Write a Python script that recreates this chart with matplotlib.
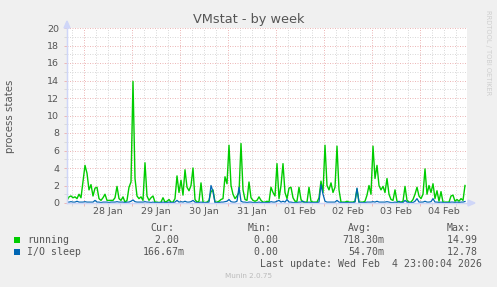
import matplotlib
matplotlib.use("Agg")
import matplotlib.pyplot as plt
import matplotlib.dates as mdates
from matplotlib.patches import Rectangle, Polygon
from datetime import datetime, timedelta

W, H = 497, 287

# --- data (hourly averages) ---
start = datetime(2026, 1, 27, 15, 30)
end = datetime(2026, 2, 4, 23, 30)

running = [
    0.3, 0.7, 0.8, 0.6, 0.7, 0.5, 1.0, 0.6, 2.5, 4.3, 3.4, 1.5, 2.1, 0.8, 1.7, 1.8, 0.5, 0.3, 0.6, 1.0,
    0.3, 0.3, 0.3, 0.3, 0.6, 1.9, 0.5, 0.3, 0.7, 0.1, 0.3, 1.8, 2.4, 13.9, 2.8, 0.8, 0.5, 0.7, 0.3, 4.6,
    0.8, 0.3, 0.6, 0.8, 0.1, 0.1, 0.05, 0.1, 0.6, 0.1, 0.2, 0.4, 0.1, 0.1, 0.5, 3.1, 1.2, 2.6, 0.9, 3.8,
    1.8, 1.4, 2.0, 4.0, 0.4, 0.1, 0.2, 2.3, 0.1, 0.05, 0.1, 0.3, 1.3, 1.5, 0.1, 0.1, 0.2, 0.4, 0.5, 3.0,
    2.2, 6.6, 2.0, 1.0, 0.5, 0.8, 1.2, 6.8, 1.5, 0.4, 0.3, 2.4, 0.6, 0.3, 0.2, 0.3, 0.7, 0.3, 0.1, 0.1,
    0.2, 0.1, 1.8, 1.2, 0.8, 4.5, 0.5, 2.0, 4.5, 1.2, 0.5, 1.7, 1.8, 0.6, 0.2, 0.2, 1.8, 0.4, 0.1, 0.1,
    0.1, 1.8, 0.2, 0.1, 0.1, 0.1, 0.6, 2.5, 1.2, 6.6, 2.0, 1.5, 2.3, 1.2, 1.8, 6.5, 1.5, 0.1, 0.1, 0.1,
    0.2, 0.1, 0.1, 0.1, 0.2, 1.6, 0.1, 0.1, 0.1, 0.2, 0.9, 2.0, 1.0, 6.5, 2.8, 4.3, 2.0, 1.5, 1.9, 1.2,
    2.8, 1.0, 0.4, 0.3, 1.5, 0.2, 0.1, 0.1, 0.2, 1.9, 0.3, 0.1, 0.1, 0.4, 1.0, 1.8, 0.8, 0.5, 1.0, 3.9,
    1.0, 2.0, 1.2, 2.2, 0.5, 1.4, 0.2, 1.3, 0.1, 0.1, 0.1, 0.1, 0.8, 0.9, 0.2, 0.4, 0.2, 0.5, 0.3, 2.0,
]

io_sleep = [
    0.1, 0.1, 0.15, 0.1, 0.1, 0.2, 0.1, 0.1, 0.1, 0.15, 0.1, 0.1, 0.1, 0.1, 0.3, 0.1, 0.1, 0.05, 0.1, 0.1,
    0.1, 0.05, 0.1, 0.1, 0.1, 0.15, 0.1, 0.1, 0.1, 0.05, 0.1, 0.1, 0.2, 0.35, 0.15, 0.1, 0.1, 0.1, 0.1, 0.15,
    0.1, 0.1, 0.05, 0.1, 0.05, 0.05, 0.05, 0.05, 0.1, 0.05, 0.05, 0.1, 0.05, 0.05, 0.1, 0.3, 0.1, 0.15, 0.1, 0.2,
    0.1, 0.1, 0.15, 0.3, 0.1, 0.05, 0.05, 0.1, 0.05, 0.05, 0.05, 0.1, 2.0, 1.3, 0.05, 0.05, 0.05, 0.1, 0.1, 0.15,
    0.2, 0.4, 0.15, 0.1, 0.1, 0.2, 1.8, 0.2, 0.1, 0.1, 0.05, 0.1, 0.1, 0.05, 0.05, 0.05, 0.1, 0.05, 0.05, 0.05,
    0.05, 0.05, 0.15, 0.1, 0.1, 0.2, 0.3, 0.1, 0.2, 0.1, 0.4, 0.1, 0.1, 0.05, 0.05, 0.05, 0.1, 0.1, 0.2, 0.05,
    0.05, 0.1, 0.05, 0.05, 0.05, 0.05, 0.1, 2.1, 1.0, 0.2, 0.1, 0.1, 0.1, 0.1, 0.1, 0.3, 0.1, 0.05, 0.05, 0.05,
    0.05, 0.05, 0.05, 0.05, 0.1, 1.7, 0.05, 0.05, 0.05, 0.05, 0.1, 0.1, 0.1, 0.15, 0.1, 0.2, 0.1, 0.1, 0.1, 0.1,
    0.15, 0.1, 0.05, 0.05, 0.1, 0.05, 0.2, 0.05, 0.05, 0.3, 0.1, 0.05, 0.05, 0.05, 0.2, 0.5, 0.1, 0.1, 0.1, 0.2,
    0.1, 0.1, 0.15, 0.5, 0.1, 0.1, 0.05, 0.1, 0.05, 0.05, 0.05, 0.05, 0.1, 0.1, 0.05, 0.1, 0.05, 0.1, 0.1, 0.17,
]

times = [start + timedelta(hours=i) for i in range(len(running))]

day_labels = ["28 Jan", "29 Jan", "30 Jan", "31 Jan", "01 Feb", "02 Feb", "03 Feb", "04 Feb"]
midnights = [datetime(2026, 1, 28) + timedelta(days=k) for k in range(len(day_labels))]
noons = [d + timedelta(hours=12) for d in midnights]
six_hours = [datetime(2026, 1, 27, 18) + timedelta(hours=6 * k) for k in range(33)]

legend_names = ["running", "I/O sleep"]
legend_colors = ["#00CC00", "#0066B3"]
cur_vals = ["2.00", "166.67m"]
min_vals = ["0.00", "0.00"]
avg_vals = ["718.30m", "54.70m"]
max_vals = ["14.99", "12.78"]

FONT = "#555555"
AXIS = "#CFD6F8"
MGRID = "#EDB8B8"
GRID = "#DADADA"


def fx(px):
    return px / W


def fy(py):
    return 1 - py / H


fig = plt.figure(figsize=(W / 100, H / 100), dpi=100)
fig.patch.set_facecolor("#F0F0F0")
ax = fig.add_axes([fx(67), fy(203), 400 / W, 175 / H])
ax.set_facecolor("white")

ax.plot(times, running, color=legend_colors[0], lw=1.0, zorder=3)
ax.plot(times, io_sleep, color=legend_colors[1], lw=0.9, zorder=4)

ax.set_xlim(start, end)
ax.set_ylim(0, 20)

ax.set_xticks(midnights)
ax.set_xticks(six_hours, minor=True)
ax.set_xticklabels([])
ax.set_yticks(range(0, 21, 2))
ax.set_yticks(range(1, 20, 2), minor=True)

dots = (0, (1, 1.5))
ax.grid(which="major", color=MGRID, linestyle=dots, lw=0.72)
ax.grid(which="minor", color=GRID, linestyle=dots, lw=0.72)
ax.set_axisbelow(True)

ax.tick_params(axis="both", which="major", length=2, width=0.72, color=MGRID,
               labelsize=6.8, labelcolor=FONT)
ax.tick_params(axis="both", which="minor", length=2, width=0.72, color=GRID)
ax.tick_params(axis="y", pad=3.6)

for s in ["top", "right"]:
    ax.spines[s].set_visible(False)
for s in ["left", "bottom"]:
    ax.spines[s].set_color(AXIS)
    ax.spines[s].set_linewidth(0.9)
    ax.spines[s].set_zorder(5)

# axis extensions and arrows
fig.add_artist(plt.Line2D([fx(67), fx(67)], [fy(203), fy(24)], color=AXIS, lw=0.9))
fig.add_artist(plt.Line2D([fx(67), fx(472)], [fy(203), fy(203)], color=AXIS, lw=0.9))
fig.add_artist(Polygon([[fx(64), fy(28)], [fx(70), fy(28)], [fx(67), fy(21)]],
                       closed=True, transform=fig.transFigure, color=AXIS))
fig.add_artist(Polygon([[fx(468), fy(200)], [fx(468), fy(206)], [fx(475), fy(203)]],
                       closed=True, transform=fig.transFigure, color=AXIS))

for d, lab in zip(noons, day_labels):
    ax.text(mdates.date2num(d), -9 / 175, lab, transform=ax.get_xaxis_transform(),
            ha="center", va="center", fontsize=6.8, color=FONT)

fig.text(0.5, fy(19), "VMstat - by week", ha="center", va="center", fontsize=9.3, color=FONT)
fig.text(fx(10), fy(116), "process states", rotation=90, ha="center", va="center",
         fontsize=7.3, color=FONT)
fig.text(fx(488), fy(53), "RRDTOOL / TOBI OETIKER", rotation=270, ha="center", va="center",
         fontsize=4.8, color="#CFCFCF")

mono = dict(family="DejaVu Sans Mono", fontsize=7.1, color=FONT, va="center")
fig.text(fx(150), fy(228), "Cur:", **mono)
fig.text(fx(248), fy(228), "Min:", **mono)
fig.text(fx(348), fy(228), "Avg:", **mono)
fig.text(fx(447), fy(228), "Max:", **mono)

rows_y = [240, 252]
for k, ry in enumerate(rows_y):
    fig.add_artist(Rectangle((fx(14), fy(ry + 3)), 6 / W, 6 / H, transform=fig.transFigure,
                             facecolor=legend_colors[k], edgecolor="none"))
    fig.text(fx(27), fy(ry), legend_names[k], **mono)
    fig.text(fx(185), fy(ry), cur_vals[k] + ("" if cur_vals[k].endswith("m") else " "),
             ha="right", **mono)
    fig.text(fx(284), fy(ry), min_vals[k] + " ", ha="right", **mono)
    fig.text(fx(384), fy(ry), avg_vals[k], ha="right", **mono)
    fig.text(fx(483), fy(ry), max_vals[k] + " ", ha="right", **mono)

fig.text(fx(482), fy(264), "Last update: Wed Feb  4 23:00:04 2026", ha="right", **mono)
fig.text(0.5, fy(276), "Munin 2.0.75", ha="center", va="center", fontsize=5.2, color="#BBBBBB")

fig.savefig("out.png", dpi=100, facecolor=fig.get_facecolor())
